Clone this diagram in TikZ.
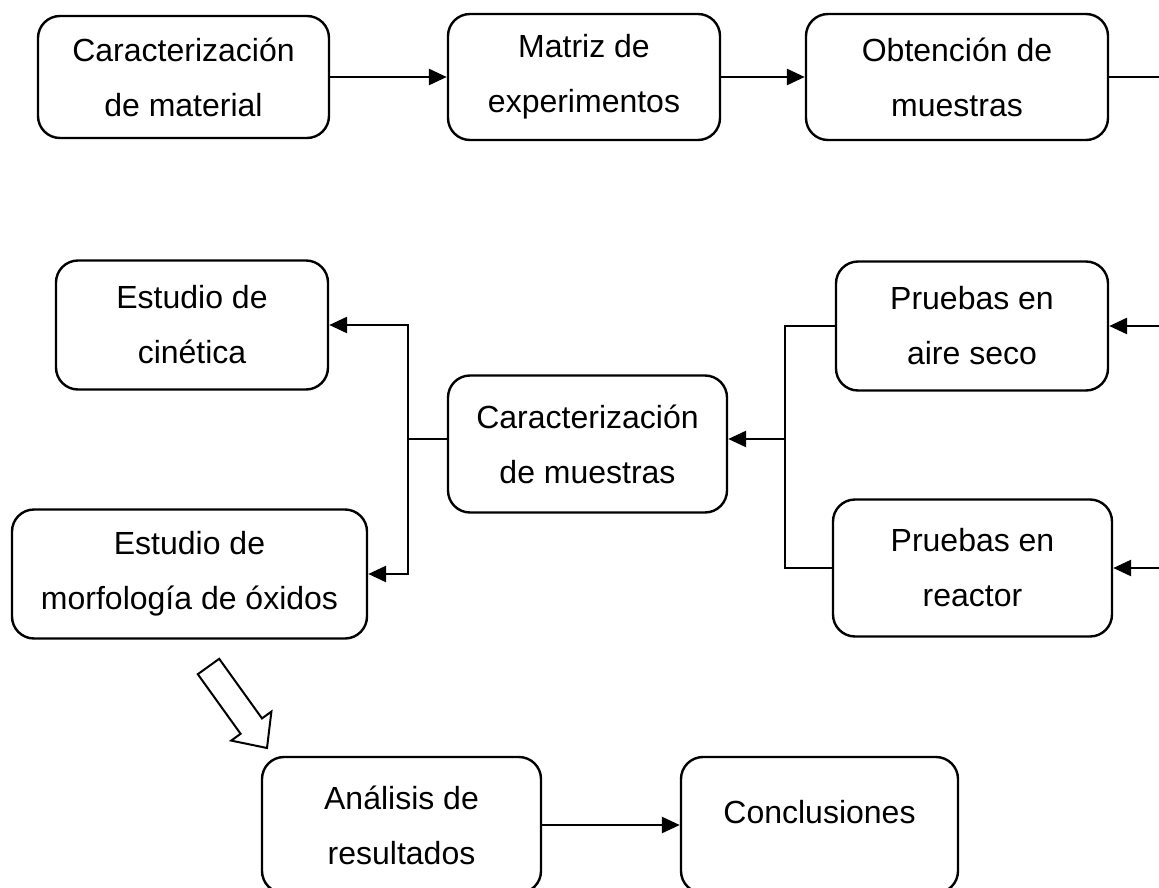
\documentclass[tikz,border=0pt]{standalone}
\usepackage{fontspec}
\setmainfont{Liberation Sans}
\usetikzlibrary{arrows.meta,calc}
\begin{document}
\begin{tikzpicture}[x=1pt,y=-1pt,
  box/.style={draw, line width=2.4pt, rounded corners=22pt, align=center, inner sep=0pt,
    font=\fontsize{32}{55}\selectfont},
  conn/.style={line width=2.8pt},
  arr/.style={line width=2.8pt, -{Triangle[length=18pt,width=16pt]}},
  lbl/.style={font=\fontsize{32}{55}\selectfont, inner sep=0pt}]
\useasboundingbox (0,0) rectangle (1159,888);
\clip (0,0) rectangle (1159,888);
% top row
\node[box, minimum width=291pt, minimum height=122pt] (b1) at (183.5,77) {Caracterización\\de material};
\node[box, minimum width=272pt, minimum height=126pt] (b2) at (584,77) {Matriz de\\experimentos};
\node[box, minimum width=302pt, minimum height=126pt] (b3) at (957,77) {Obtención de\\muestras};
% middle
\node[box, minimum width=272pt, minimum height=129pt] (cin) at (192,325) {Estudio de\\cinética};
\node[box, minimum width=272pt, minimum height=129pt] (aire) at (972,326) {Pruebas en\\aire seco};
\node[box, minimum width=279pt, minimum height=137pt] (mue) at (587.5,444) {Caracterización\\de muestras};
\node[box, minimum width=355pt, minimum height=129pt] (morf) at (189.5,574) {Estudio de\\morfología de óxidos};
\node[box, minimum width=279pt, minimum height=137pt] (reac) at (972.5,568) {Pruebas en\\reactor};
% bottom
\node[box, minimum width=279pt, minimum height=136pt] (anal) at (401.5,825) {Análisis de\\resultados};
\node[box, minimum width=277pt, minimum height=136pt] (conc) at (819.5,825) {};
\node[lbl] (conct) at (819.5,812) {Conclusiones};
% top connectors
\coordinate (edge) at (1159,0);
\draw[arr] (b1.east) -- (b2.west);
\draw[arr] (b2.east) -- (b3.west);
\draw[conn] (b3.east) -- (edge |- b3.east);
\draw[arr] (edge |- aire.east) -- (aire.east);
\draw[arr] (edge |- reac.east) -- (reac.east);
% right junction
\coordinate (jr) at (785,439);
\draw[arr] (jr) -- (mue.east |- jr);
\draw[conn] (aire.west) -| (jr) |- (reac.west);
% left junction
\coordinate (jl) at (408,439);
\draw[conn] (mue.west |- jl) -- (jl);
\draw[arr] (jl) |- (cin.east);
\draw[arr] (jl) |- (morf.east);
% hollow arrow
\draw[line width=2pt, line join=miter, fill=white]
  (219.2,658.8) -- (262.0,718.4) -- (271.4,711.6) -- (267,748) -- (231.2,740.6)
  -- (240.6,733.8) -- (197.8,674.2) -- cycle;
\draw[arr] (anal.east) -- (conc.west);
\end{tikzpicture}
\end{document}
